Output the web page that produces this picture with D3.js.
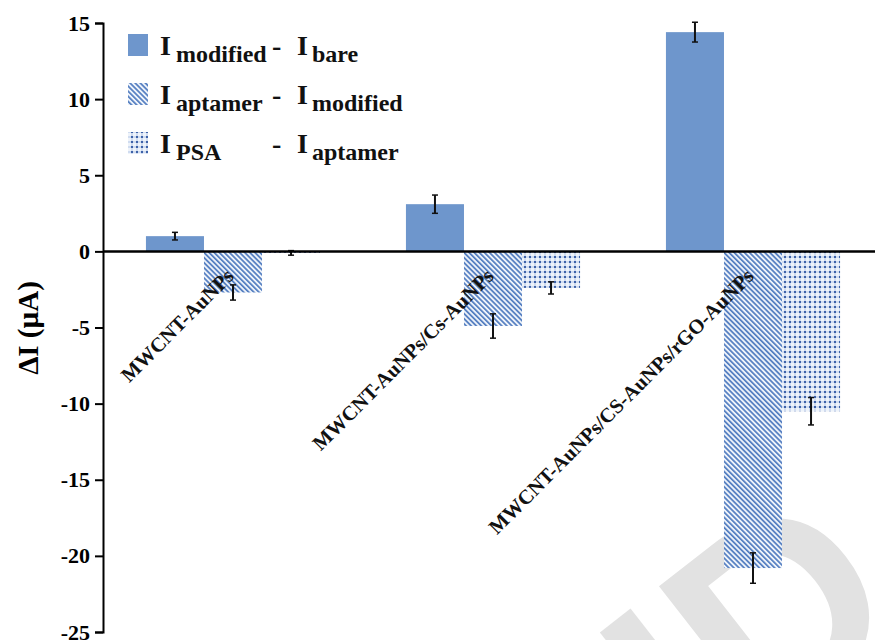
<!DOCTYPE html>
<html><head><meta charset="utf-8">
<script src="https://cdn.jsdelivr.net/npm/d3@7"></script>
<style>html,body{margin:0;padding:0;background:#fff;} svg{display:block;}</style>
</head><body>
<svg id="chart" width="875" height="640"></svg>
<script>
const categories = ["MWCNT-AuNPs", "MWCNT-AuNPs/Cs-AuNPs", "MWCNT-AuNPs/CS-AuNPs/rGO-AuNPs"];
const seriesKeys = ["modBare", "aptMod", "psaApt"];
const modBare = [1.0, 3.1, 14.4];
const aptMod = [-2.7, -4.9, -20.8];
const psaApt = [-0.1, -2.4, -10.5];
const errModBare = [0.25, 0.6, 0.65];
const errAptMod = [0.5, 0.8, 1.0];
const errPsaApt = [0.15, 0.4, 0.9];
const yTicks = [15, 10, 5, 0, -5, -10, -15, -20, -25];
const legendMain = ["I", "I", "I"];
const legendSub1 = ["modified", "aptamer", "PSA"];
const legendSub2 = ["bare", "modified", "aptamer"];
const yTitle = "ΔI (µA)";

const values = {modBare, aptMod, psaApt};
const errors = {modBare: errModBare, aptMod: errAptMod, psaApt: errPsaApt};

const SERIF = '"Liberation Serif", "Times New Roman", Times, serif';
function serif(sel, size) {
  return sel.style("font-family", SERIF).style("font-weight", "bold").style("font-size", size + "px");
}

const svg = d3.select("#chart");
const defs = svg.append("defs");

// hatch pattern
const hp = defs.append("pattern").attr("id", "hatch").attr("patternUnits", "userSpaceOnUse")
  .attr("width", 3.6).attr("height", 3.6).attr("patternTransform", "rotate(-45)");
hp.append("rect").attr("width", 3.6).attr("height", 3.6).attr("fill", "#eef3fa");
hp.append("rect").attr("x", 0).attr("width", 1.7).attr("height", 3.6).attr("fill", "#527dc0");

// dot pattern
const dp = defs.append("pattern").attr("id", "dots").attr("patternUnits", "userSpaceOnUse")
  .attr("width", 5).attr("height", 5);
dp.append("rect").attr("width", 5).attr("height", 5).attr("fill", "#eef3fa");
dp.append("rect").attr("x", 0).attr("y", 1.5).attr("width", 5).attr("height", 1).attr("fill", "#b3c6e6");
dp.append("rect").attr("x", 1.5).attr("y", 0).attr("width", 1).attr("height", 5).attr("fill", "#b3c6e6");
dp.append("rect").attr("x", 1).attr("y", 1).attr("width", 2).attr("height", 2).attr("fill", "#3d62a8");

const fills = {modBare: "#6e96cc", aptMod: "url(#hatch)", psaApt: "url(#dots)"};

const y = d3.scaleLinear().domain([-25, 15]).range([632, 23]);
const x0 = d3.scaleBand().domain(categories).range([103, 883]).paddingInner(0).paddingOuter(0);
const x1 = d3.scaleBand().domain(seriesKeys).range([0, x0.bandwidth()]).paddingInner(0).paddingOuter(0.74);

// watermark
svg.append("text").attr("transform", "translate(700,790) rotate(-38)")
  .style("font-family", "'Liberation Sans',Arial,sans-serif").style("font-weight", "bold")
  .style("font-size", "270px").attr("fill", "#e2e2e2").text("ID");

// bars
const rows = categories.map((c, i) => seriesKeys.map(k => ({cat: c, key: k, v: values[k][i], e: errors[k][i]})));
const g = svg.append("g");
const grp = g.selectAll("g.grp").data(rows).join("g").attr("class", "grp")
  .attr("transform", (d, i) => `translate(${x0(categories[i])},0)`);
grp.selectAll("rect").data(d => d).join("rect")
  .attr("x", d => x1(d.key)).attr("width", x1.bandwidth())
  .attr("y", d => y(Math.max(0, d.v))).attr("height", d => Math.abs(y(d.v) - y(0)))
  .attr("fill", d => fills[d.key]);

// error bars
grp.selectAll("g.err").data(d => d).join("g").attr("class", "err").each(function(d) {
  const cx = x1(d.key) + x1.bandwidth() / 2;
  const s = d3.select(this);
  s.append("line").attr("x1", cx).attr("x2", cx).attr("y1", y(d.v + d.e)).attr("y2", y(d.v - d.e))
    .attr("stroke", "#111").attr("stroke-width", 2);
  [d.v + d.e, d.v - d.e].forEach(t => s.append("line").attr("x1", cx - 3).attr("x2", cx + 3)
    .attr("y1", y(t)).attr("y2", y(t)).attr("stroke", "#111").attr("stroke-width", 1.5));
});

// zero line
svg.append("line").attr("x1", 103).attr("x2", 875).attr("y1", y(0)).attr("y2", y(0))
  .attr("stroke", "#000").attr("stroke-width", 2.5);

// y axis
const ya = svg.append("g").attr("transform", "translate(103,0)")
  .call(d3.axisLeft(y).tickValues(yTicks).tickSize(8).tickSizeOuter(8).tickPadding(5).tickFormat(d => String(d)));
ya.attr("font-family", null).attr("font-size", null);
ya.select(".domain").attr("stroke", "#000").attr("stroke-width", 2);
ya.selectAll(".tick line").attr("stroke", "#000").attr("stroke-width", 2);
serif(ya.selectAll(".tick text"), 22).attr("fill", "#000");

// y title
serif(svg.append("text"), 29).attr("transform", "translate(38,328) rotate(-90)").attr("text-anchor", "middle")
  .attr("fill", "#000").text(yTitle);

// category labels
serif(svg.selectAll("text.cat").data(categories).join("text").attr("class", "cat"), 20.5)
  .attr("transform", d => `translate(${x0(d) + x0.bandwidth() / 2 + 2},${y(0) + 26}) rotate(-45)`)
  .attr("text-anchor", "end").attr("fill", "#111").text(d => d);

// legend
const lg = svg.append("g");
const lfills = [fills.modBare, fills.aptMod, fills.psaApt];
lfills.forEach((f, i) => {
  const by = 55 + i * 49;
  lg.append("rect").attr("x", 128).attr("y", by - 21).attr("width", 20).attr("height", 22).attr("fill", f);
  const t = serif(lg.append("text"), 28).attr("fill", "#111").attr("y", by);
  serif(t.append("tspan"), 28).attr("x", 160).text(legendMain[i]);
  serif(t.append("tspan"), 24).attr("x", 176).attr("dy", 7).text(legendSub1[i]);
  serif(t.append("tspan"), 28).attr("x", 272).attr("dy", -7).text("-");
  serif(t.append("tspan"), 28).attr("x", 297).text(legendMain[i]);
  serif(t.append("tspan"), 24).attr("x", 312).attr("dy", 7).text(legendSub2[i]);
});
</script>
</body></html>
